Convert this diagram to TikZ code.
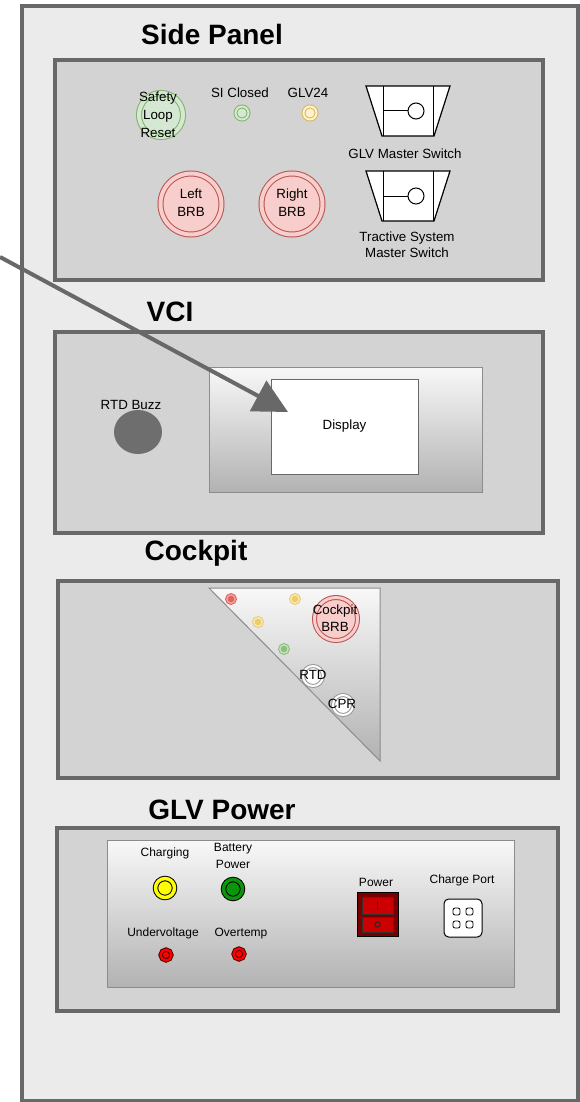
\documentclass[tikz,border=0pt]{standalone}
\usepackage{fontspec}
\setmainfont{Liberation Sans}
\usetikzlibrary{arrows.meta,shadows,shapes.geometric}
\definecolor{outerfill}{HTML}{EBEBEB}
\definecolor{bgray}{HTML}{686868}
\definecolor{panelfill}{HTML}{D3D3D3}
\definecolor{grnfill}{HTML}{D5E8D4}
\definecolor{grnline}{HTML}{82B366}
\definecolor{yelfill}{HTML}{FFF2CC}
\definecolor{yelline}{HTML}{D6B656}
\definecolor{redfill}{HTML}{F8CECC}
\definecolor{redline}{HTML}{B85450}
\definecolor{gradbot}{HTML}{B2B2B2}
\definecolor{gradtop}{HTML}{F8F8F8}
\definecolor{rectline}{HTML}{8C8C8C}
\definecolor{buzzgray}{HTML}{6E6E6E}
\definecolor{dotred}{HTML}{DE6460}
\definecolor{dotredl}{HTML}{F0A09C}
\definecolor{dotyel}{HTML}{EACB6E}
\definecolor{dotyell}{HTML}{F8E8B0}
\definecolor{dotgrn}{HTML}{8CBF7C}
\definecolor{dotgrnl}{HTML}{C2E0B6}
\definecolor{ledyel}{HTML}{FFFF00}
\definecolor{ledgrn}{HTML}{0A960A}
\definecolor{ledred}{HTML}{FF0000}
\definecolor{ledredline}{HTML}{500000}
\definecolor{swdark}{HTML}{7A0000}
\definecolor{swred}{HTML}{CC0000}
\definecolor{ringgray}{HTML}{999999}
\begin{document}
\begin{tikzpicture}[x=0.75pt,y=-0.75pt,
  panel/.style={draw=bgray, line width=3pt, fill=panelfill,
    drop shadow={shadow xshift=1.5pt, shadow yshift=-1.5pt, opacity=0.18, fill=black}},
  title/.style={font=\fontsize{21}{25}\selectfont\bfseries, anchor=base, inner sep=0pt},
  lbl/.style={font=\fontsize{10}{13.5}\selectfont, inner sep=0pt, align=center},
  lblb/.style={lbl, anchor=base},
  sml/.style={font=\fontsize{9}{13}\selectfont, inner sep=0pt, align=center},
  smlb/.style={sml, anchor=base},
  ring/.style={circle, inner sep=0pt, outer sep=0pt, line width=0.75pt},
  thin/.style={line width=0.75pt}
]
\useasboundingbox (0,0) rectangle (580,1102);
\fill[white] (0,0) rectangle (580,1102);

% outer enclosure
\draw[draw=bgray, line width=3pt, fill=outerfill] (22,6.5) rectangle (577.5,1101);

% panels
\draw[panel] (55,60) rectangle (543,279.5);
\draw[panel] (55,332) rectangle (543,533);
\draw[panel] (58,580.5) rectangle (558,778);
\draw[panel] (57,828) rectangle (558,1011);

% titles
\node[title] (tside) at (212,45) {Side Panel};
\node[title] (tvci) at (170,321) {VCI};
\node[title] (tcock) at (196,560) {Cockpit};
\node[title] (tglv) at (222,819) {GLV Power};

% ---------------- Side panel
\node[ring, fill=grnfill, draw=grnline, double=grnfill, double distance=3pt, minimum size=33pt] (slr) at (161,115) {};
\node[lbl, font=\fontsize{10}{13.5}\selectfont] (slrt) at (158,115) {Safety\\Loop\\Reset};

\node[ring, fill=grnfill, draw=grnline, double=grnfill, double distance=1.5pt, minimum size=9.75pt] (siled) at (242,113) {};
\node[lblb] (sit) at (240,98) {SI Closed};
\node[ring, fill=yelfill, draw=yelline, double=yelfill, double distance=1.5pt, minimum size=9.75pt] (glvled) at (310,113) {};
\node[lblb] (glvt) at (308,98) {GLV24};

\node[ring, fill=redfill, draw=redline, double=redfill, double distance=3pt, minimum size=45.75pt] (lbrb) at (191,204) {};
\node[lbl] (lbrbt) at (191,203) {Left\\BRB};
\node[ring, fill=redfill, draw=redline, double=redfill, double distance=3pt, minimum size=45.75pt] (rbrb) at (292,204) {};
\node[lbl] (rbrbt) at (292,203) {Right\\BRB};

\foreach \yy/\nm in {86/glvsw, 171/tssw} {
  \draw[fill=white, line width=0.9pt] (366,\yy) -- (450,\yy) -- (434,\yy+50) -- (382,\yy+50) -- cycle;
  \draw[thin] (383,\yy) -- (383,\yy+50) (433,\yy) -- (433,\yy+50) (383,\yy+25) -- (408,\yy+25);
  \node[ring, draw, fill=white, minimum size=12pt] (\nm) at (416,\yy+25) {};
}
\node[lblb] (glvswt) at (405,158) {GLV Master Switch};
\node[lbl, font=\fontsize{10}{12}\selectfont] (tsswt) at (407,245) {Tractive System\\Master Switch};

% ---------------- VCI
\node[ellipse, fill=buzzgray, inner sep=0pt, minimum width=36pt, minimum height=33pt] (buzz) at (138,432) {};
\node[lblb] (buzzt) at (131,409) {RTD Buzz};
\shadedraw[top color=gradtop, bottom color=gradbot, draw=rectline, thin] (209,367) rectangle (482,492);
\node[lbl, draw=bgray, fill=white, thin, minimum width=110.25pt, minimum height=71.25pt] (display) at (344.5,426.5) {Display};

% ---------------- Cockpit
\shadedraw[top color=gradtop, bottom color=gradbot, draw=rectline, thin] (209,588) -- (380,588) -- (380,761) -- cycle;
\node[ring, fill=dotred, draw=dotred, double=dotredl, double distance=1.1pt, minimum size=6.2pt] (dr) at (231,599) {};
\node[ring, fill=dotyel, draw=dotyel, double=dotyell, double distance=1.1pt, minimum size=6.2pt] (dy1) at (295,599) {};
\node[ring, fill=dotyel, draw=dotyel, double=dotyell, double distance=1.1pt, minimum size=6.2pt] (dy2) at (258,622) {};
\node[ring, fill=dotgrn, draw=dotgrn, double=dotgrnl, double distance=1.1pt, minimum size=6.2pt] (dg) at (284,649) {};
\node[ring, fill=redfill, draw=redline, double=redfill, double distance=2.25pt, minimum size=32.25pt] (cbrb) at (336,619) {};
\node[lbl, font=\fontsize{10}{12.75}\selectfont] (cbrbt) at (335,618) {Cockpit\\BRB};
\node[ring, fill=white, draw=ringgray, double=white, double distance=1.5pt, minimum size=15pt] (rtd) at (313,676) {};
\node[lblb] (rtdt) at (313,679) {RTD};
\node[ring, fill=white, draw=ringgray, double=white, double distance=1.5pt, minimum size=15pt] (cpr) at (343,705) {};
\node[lblb] (cprt) at (342,708) {CPR};

% ---------------- GLV Power
\shadedraw[top color=gradtop, bottom color=gradbot, draw=rectline, thin] (107,840) rectangle (514.5,987.5);
\node[smlb] (chgt) at (165,856) {Charging};
\node[ring, fill=ledyel, draw=black, double=ledyel, double distance=2.6pt, minimum size=14.25pt] (chg) at (165,888) {};
\node[sml] (batt) at (233,856) {Battery\\Power};
\node[ring, fill=ledgrn, draw=black, double=ledgrn, double distance=2.6pt, minimum size=14.25pt] (bat) at (233,889) {};
\node[smlb] (uvt) at (163,936.5) {Undervoltage};
\node[ring, fill=ledred, draw=ledredline, double=ledred, double distance=1.7pt, minimum size=8.25pt] (uv) at (166,955) {};
\node[smlb] (otpt) at (241,936.5) {Overtemp};
\node[ring, fill=ledred, draw=ledredline, double=ledred, double distance=1.7pt, minimum size=8.25pt] (otp) at (239,954) {};

\node[smlb] (pwrt) at (376,886) {Power};
\node[draw=black, fill=swdark, thin, inner sep=0pt, minimum width=30.75pt, minimum height=33pt] (pwr) at (377.5,914) {};
\draw[fill=swred, draw=black!80, thin] (362,897) rectangle (393,914);
\draw[fill=swred, draw=black!80, thin] (362,917) rectangle (393,932);
\draw[line width=0.6pt, black!85] (377.5,900.5) -- (377.5,909.5);
\draw[line width=0.6pt, black!85] (377.5,924.5) circle (2.6);

\node[smlb] (cpt) at (462,883) {Charge Port};
\node[draw=black, fill=white, thin, rounded corners=3.5pt, inner sep=0pt, minimum width=28.5pt, minimum height=28.5pt] (cport) at (463,918) {};
\foreach \cx/\cy in {456.5/911.5, 469.5/911.5, 456.5/924.5, 469.5/924.5} {
  \draw[line width=0.6pt, rounded corners=1.5pt] (\cx-3.5,\cy-3.5) rectangle (\cx+3.5,\cy+3.5);
}

% ---------------- arrow
\coordinate (src) at (0,257);
\coordinate (tipc) at (288,412);
\draw[bgray, line width=3pt, -{Triangle[length=25.5pt, width=25.5pt]}] (src) -- (tipc);
\end{tikzpicture}
\end{document}
